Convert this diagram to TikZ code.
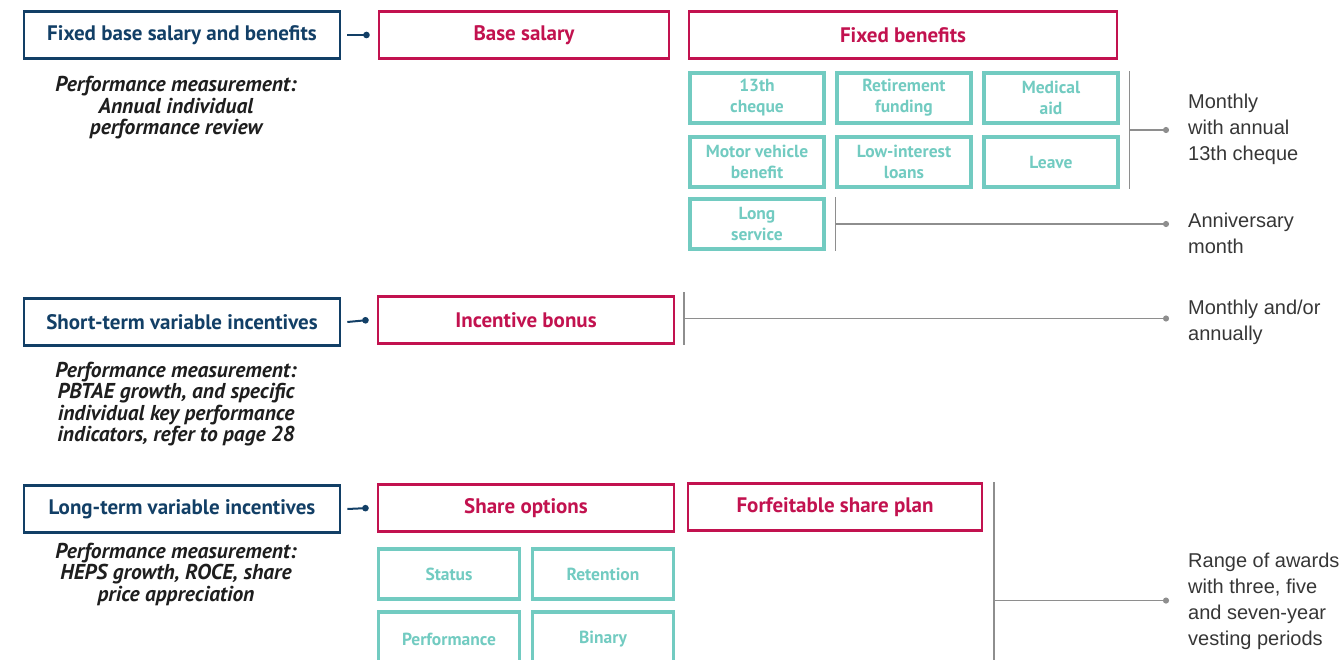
\documentclass[tikz,border=0pt]{standalone}
\usepackage{fontspec}
\setmainfont{PT Sans}
\newfontfamily\rtfont{Liberation Sans}
\usetikzlibrary{arrows.meta,calc}
\definecolor{navy}{HTML}{123F66}
\definecolor{crim}{HTML}{C2124F}
\definecolor{tealc}{HTML}{72CBC1}
\definecolor{gline}{HTML}{8E8E8E}
\definecolor{rtext}{HTML}{363636}
\definecolor{itext}{HTML}{1E1E1E}
\begin{document}
\begin{tikzpicture}[x=1pt,y=-1pt,
 navybox/.style={draw=navy, line width=2.6pt, text=navy, font=\fontsize{21}{24}\selectfont\bfseries, minimum width=316pt, minimum height=47pt, inner sep=0pt},
 crimbox/.style={draw=crim, line width=2.6pt, text=crim, font=\fontsize{21}{24}\selectfont\bfseries, minimum height=47pt, inner sep=0pt},
 tealbox/.style={draw=tealc, line width=3.1pt, text=tealc, font=\fontsize{17.5}{21}\selectfont\bfseries, minimum width=134pt, minimum height=50pt, align=center, inner sep=0pt},
 perf/.style={font=\fontsize{21.5}{21.5}\selectfont\bfseries\itshape, text=itext, align=center},
 rt/.style={font=\rtfont\fontsize{20}{26}\selectfont, text=rtext, align=left, anchor=west, inner sep=0pt},
 conn/.style={draw=navy, line width=2pt, -{Circle[length=6.5pt]}},
 gl/.style={draw=gline, line width=1.8pt},
 gdot/.style={draw=gline, line width=1.8pt, -{Circle[length=6pt]}},
]
\useasboundingbox (0,0) rectangle (1343,660);
\clip (0,0) rectangle (1343,660);
% Row 1
\node[navybox] (fb) at (182,35) {Fixed base salary and benefits};
\node[crimbox, minimum width=290pt] (bs) at (524,35) {Base salary};
\node[crimbox, minimum width=428pt] (fben) at (903,35) {Fixed benefits};
\draw[conn] ([xshift=6pt]fb.east) -- ([xshift=-8pt]bs.west);
\node[perf] (p1) at (176,108) {Performance measurement:\\Annual individual\\performance review};
\node[tealbox] (t13) at (757,98) {13th\\cheque};
\node[tealbox] (tret) at (904,98) {Retirement\\funding};
\node[tealbox] (tmed) at (1051,98) {Medical\\aid};
\node[tealbox] (tmot) at (757,162) {Motor vehicle\\benefit};
\node[tealbox] (tlow) at (904,162) {Low-interest\\loans};
\node[tealbox] (tlea) at (1051,162) {Leave};
\node[tealbox] (tlong) at (757,224) {Long\\service};
% bracket 1
\coordinate (v1a) at ([xshift=10pt]tmed.north east);
\coordinate (v1b) at ([xshift=10pt]tlea.south east);
\draw[gl] (v1a) -- (v1b);
\coordinate (m1) at ($(v1a)!0.5!(v1b)$);
\coordinate (d1) at (1169,0);
\draw[gdot] (m1) -- (m1 -| d1);
\node[rt] (r1) at (1188,129) {Monthly\\with annual\\13th cheque};
% bracket 2
\coordinate (v2a) at ([xshift=10pt]tlong.north east);
\coordinate (v2b) at ([xshift=10pt]tlong.south east);
\draw[gl] (v2a) -- (v2b);
\coordinate (m2) at ($(v2a)!0.5!(v2b)$);
\draw[gdot] (m2) -- (m2 -| d1);
\node[rt] (r2) at (1188,233) {Anniversary\\month};
% Row 2
\node[navybox] (st) at (182,322) {Short-term variable incentives};
\node[crimbox, minimum width=296pt] (ib) at (526,320) {Incentive bonus};
\draw[conn] ([xshift=6pt]st.east) -- ([xshift=-8pt]ib.west);
\node[perf] (p2) at (176,404) {Performance measurement:\\PBTAE growth, and specific\\individual key performance\\indicators, refer to page 28};
\coordinate (v3a) at ([xshift=9pt,yshift=3pt]ib.north east);
\coordinate (v3b) at ([xshift=9pt]ib.south east);
\draw[gl] (v3a) -- (v3b);
\coordinate (m3) at ($(v3a)!0.5!(v3b)$);
\draw[gdot] (m3) -- (m3 -| d1);
\node[rt] (r3) at (1188,322) {Monthly and/or\\annually};
% Row 3
\node[navybox] (lt) at (182,509) {Long-term variable incentives};
\node[crimbox, minimum width=296pt] (so) at (526,508) {Share options};
\node[crimbox, minimum width=294pt] (fsp) at (835,507) {Forfeitable share plan};
\draw[conn] ([xshift=6pt]lt.east) -- ([xshift=-8pt]so.west);
\node[perf] (p3) at (176,574) {Performance measurement:\\HEPS growth, ROCE, share\\price appreciation};
\node[tealbox, minimum width=141pt] (tsta) at (449,574) {Status};
\node[tealbox, minimum width=141pt] (tret2) at (603,574) {Retention};
\node[tealbox, minimum width=141pt, minimum height=54pt] (tper) at (449,639) {Performance};
\node[tealbox, minimum width=141pt, minimum height=54pt] (tbin) at (603,639) {Binary};
\coordinate (v4a) at ([xshift=11pt]fsp.north east);
\coordinate (v4b) at (v4a |- tbin.south);
\draw[gl] (v4a) -- (v4b);
\coordinate (m4) at (v4a |- tsta.south);
\draw[gdot] (m4) -- (m4 -| d1);
\node[rt] (r4) at (1188,601) {Range of awards\\with three, five\\and seven-year\\vesting periods};
\end{tikzpicture}
\end{document}
